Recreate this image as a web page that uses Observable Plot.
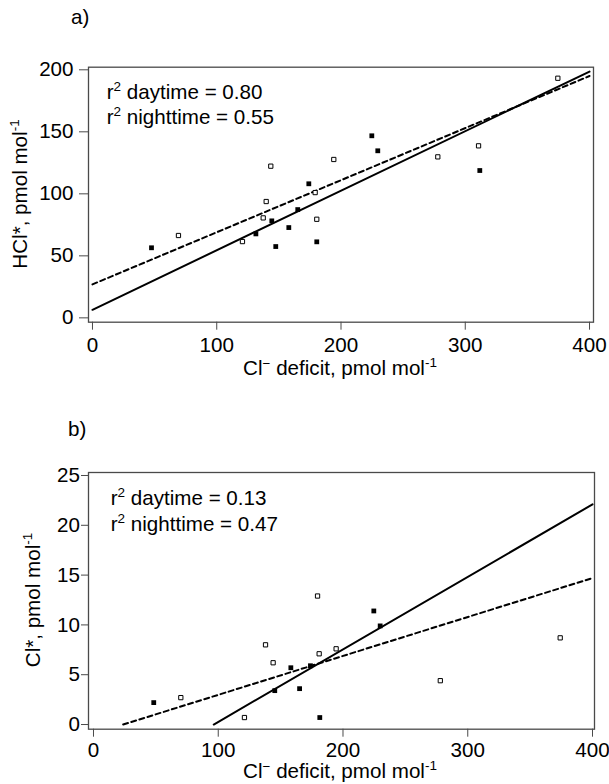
<!DOCTYPE html>
<html><head><meta charset="utf-8">
<script src="https://cdn.jsdelivr.net/npm/d3@7"></script>
<script src="https://cdn.jsdelivr.net/npm/@observablehq/plot@0.6"></script>
<style>
body{margin:0;background:#fff;}
#wrap{position:relative;width:609px;height:784px;overflow:hidden;background:#fff;}
#wrap svg{position:absolute;left:0;}
</style></head><body><div id="wrap"></div>
<script>
// ---- data ----
const deficitDayA   = [47.5,131.5,144.3,147.5,158,165.2,174.1,180.5,224.8,229.6,311.7];
const hclDay        = [56.5,67.7,78.2,57.5,72.8,87.3,108.1,61.3,146.8,134.7,118.8];
const deficitNightA = [69.2,120.7,137.4,139.8,143.5,179.2,180.5,194.2,277.9,310.7,374.5];
const hclNight      = [66.4,61.5,80.6,93.8,122.3,101,79.5,127.7,129.8,138.7,193.2];

const deficitDayB   = [48.3,145.3,158.2,165.2,173.9,181.4,224.7,229.8];
const clDay         = [2.2,3.4,5.7,3.6,5.9,0.7,11.4,9.9];
const deficitNightB = [70,121,137.9,144,179.6,180.9,194.5,278,374.1];
const clNight       = [2.7,0.7,8.0,6.2,12.9,7.1,7.6,4.4,8.7];

// regression line end points
const fitADayX = [0,400],    fitADayY = [6.5,198.5];
const fitANightX = [0,400],  fitANightY = [27,195];
const fitBDayX = [96.4,400], fitBDayY = [0,22.1];
const fitBNightX = [23.8,400], fitBNightY = [0,14.7];

const xTicks  = [0,100,200,300,400];
const yTicksA = [0,50,100,150,200];
const yTicksB = [0,5,10,15,20,25];
const r2A = ["0.80","0.55"];
const r2B = ["0.13","0.47"];

// ---- helpers ----
const rows = (xs, ys) => xs.map((x,i)=>({x, y: ys[i]}));
const FONT = "'Liberation Sans', Arial, sans-serif";
const FS = 20.6;
function rich(parts, {x, y, anchor="start", rotate=0, size=FS}) {
  return () => {
    const t = d3.create("svg:text")
      .attr("transform", `translate(${x},${y})` + (rotate ? ` rotate(${rotate})` : ""))
      .attr("text-anchor", anchor).attr("font-size", size)
      .attr("font-family", FONT).attr("fill", "#000");
    let shifted = 0;
    for (const p of parts) {
      if (typeof p === "string") {
        t.append("tspan").attr("dy", shifted).attr("font-size", size).text(p);
        shifted = 0;
      } else {
        const s = p.shift ?? 8;
        t.append("tspan").attr("dy", -s).attr("font-size", p.size ?? 13.5).text(p.sup);
        shifted = s;
      }
    }
    return t.node();
  };
}
const dash = "5,3.5";
const frameStroke = "#4a4a4a";

function panel({height, marginTop, marginBottom, marginRight, xDomain, yDomain, yTicks,
                yTickSize, yTickPad, xTickPad, dayX, dayY, nightX, nightY,
                fDX, fDY, fNX, fNY, extra}) {
  return Plot.plot({
    width: 609, height, marginLeft: 88, marginRight, marginTop, marginBottom,
    style: {fontFamily: FONT, fontSize: FS + "px", background: "transparent", color: "#000"},
    x: {domain: xDomain, label: null},
    y: {domain: yDomain, label: null},
    marks: [
      Plot.axisX({ticks: xTicks, tickSize: 8, tickPadding: xTickPad, fontSize: FS,
                  stroke: frameStroke, fill: "#000", label: null}),
      Plot.axisY({ticks: yTicks, tickSize: yTickSize, tickPadding: yTickPad, fontSize: FS,
                  stroke: frameStroke, fill: "#000", label: null}),
      Plot.line(rows(fDX, fDY), {x: "x", y: "y", stroke: "#000", strokeWidth: 2}),
      Plot.line(rows(fNX, fNY), {x: "x", y: "y", stroke: "#000", strokeWidth: 2, strokeDasharray: dash}),
      Plot.dot(rows(dayX, dayY), {x: "x", y: "y", symbol: "square", r: 2.7, fill: "#000", stroke: "none"}),
      Plot.dot(rows(nightX, nightY), {x: "x", y: "y", symbol: "square", r: 2.4, fill: "#fff", stroke: "#000", strokeWidth: 1}),
      Plot.frame({stroke: frameStroke, strokeWidth: 1.3}),
      ...extra
    ]
  });
}

const plotA = panel({
  height: 392, marginTop: 66.7, marginBottom: 70.3, marginRight: 16,
  xDomain: [-3.2, 403.2], yDomain: [-3.5, 202.1], yTicks: yTicksA,
  yTickSize: 9, yTickPad: 6, xTickPad: 7,
  dayX: deficitDayA, dayY: hclDay, nightX: deficitNightA, nightY: hclNight,
  fDX: fitADayX, fDY: fitADayY, fNX: fitANightX, fNY: fitANightY,
  extra: [
    rich(["a)"], {x: 71, y: 24}),
    rich(["r", {sup: "2"}, " daytime = " + r2A[0]], {x: 106.7, y: 99}),
    rich(["r", {sup: "2"}, " nighttime = " + r2A[1]], {x: 106.7, y: 124}),
    rich(["Cl", {sup: "\u2212", shift: 7}, " deficit, pmol mol", {sup: "-1"}], {x: 340, y: 375, anchor: "middle"}),
    rich(["HCl*, pmol mol", {sup: "-1"}], {x: 27, y: 194, anchor: "middle", rotate: -90})
  ]
});

const plotB = panel({
  height: 392, marginTop: 80, marginBottom: 55.3, marginRight: 15,
  xDomain: [-4, 401.6], yDomain: [-0.47, 25.3], yTicks: yTicksB,
  yTickSize: 7, yTickPad: 1.5, xTickPad: 5.5,
  dayX: deficitDayB, dayY: clDay, nightX: deficitNightB, nightY: clNight,
  fDX: fitBDayX, fDY: fitBDayY, fNX: fitBNightX, fNY: fitBNightY,
  extra: [
    rich(["b)"], {x: 68, y: 44}),
    rich(["r", {sup: "2"}, " daytime = " + r2B[0]], {x: 110.7, y: 113}),
    rich(["r", {sup: "2"}, " nighttime = " + r2B[1]], {x: 110.7, y: 138.5}),
    rich(["Cl", {sup: "\u2212", shift: 7}, " deficit, pmol mol", {sup: "-1"}], {x: 340, y: 386, anchor: "middle"}),
    rich(["Cl*, pmol mol", {sup: "-1"}], {x: 40, y: 208, anchor: "middle", rotate: -90})
  ]
});

const wrap = document.getElementById("wrap");
plotA.style.top = "0px";
plotB.style.top = "392px";
wrap.appendChild(plotA);
wrap.appendChild(plotB);
</script>
</body></html>
